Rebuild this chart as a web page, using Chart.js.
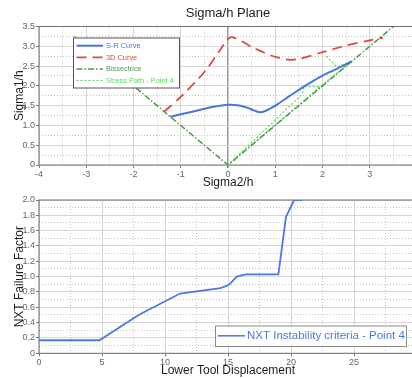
<!DOCTYPE html>
<html><head><meta charset="utf-8">
<script src="https://cdn.jsdelivr.net/npm/chart.js@4.4.1/dist/chart.umd.min.js"></script>
<style>
html,body{margin:0;padding:0;background:#fff;overflow:hidden;width:412px;height:378px;position:relative;}
#c1{position:absolute;left:0;top:0;}
#c2{position:absolute;left:0;top:186px;}
</style></head><body>
<canvas id="c2" width="424" height="192"></canvas>
<canvas id="c1" width="424" height="190"></canvas>
<script>
// ---- Top chart data (Sigma/h plane) ----
const srX = [-1.22,-1.0,-0.6,-0.3,0,0.2,0.4,0.55,0.68,0.8,1.0,1.3,1.63,2.0,2.3,2.62];
const srY = [1.22,1.28,1.39,1.47,1.52,1.51,1.45,1.38,1.33,1.37,1.5,1.74,2.0,2.26,2.43,2.62];
const d3X = [-1.35,-1.0,-0.5,-0.2,0,0.08,0.3,0.5,0.75,1.0,1.3,1.5,2.0,2.5,3.0,3.28];
const d3Y = [1.35,1.72,2.35,2.85,3.18,3.23,3.12,2.98,2.85,2.73,2.66,2.68,2.85,3.02,3.15,3.22];
const bisX = [-3.25,0,3.5];
const bisY = [3.25,0,3.5];
const spX = [2.08,2.3,2.62,2.05,0,1.58,1.6,2.05];
const spY = [2.75,2.48,2.62,2.08,0,1.8,1.98,1.98];
const topLabels = ['S-R Curve','3D Curve','Bissectrice','Stress Path - Point 4'];
const topXTicks = [-4,-3,-2,-1,0,1,2,3];
// ---- Bottom chart data ----
const dispX = [0,4.8,7.9,11.2,14.4,15.05,15.7,16.4,19.0,19.6,20.25,20.9];
const nxtY = [0.17,0.17,0.5,0.78,0.85,0.89,1.0,1.03,1.03,1.78,2.0,2.0];
const bottomLabel = 'NXT Instability criteria - Point 4';
const bottomXTicks = [0,5,10,15,20,25];

const FONT = "'Liberation Sans', Arial, sans-serif";
Chart.defaults.font.family = FONT;

const pts = (xs, ys) => xs.map((x, i) => ({x, y: ys[i]}));

const frame = {
  id: 'frame',
  beforeDatasetsDraw(chart) {
    const a = chart.chartArea, c = chart.ctx;
    c.save(); c.strokeStyle = '#6e6e6e'; c.lineWidth = 1;
    c.strokeRect(a.left, a.top, a.right - a.left, a.bottom - a.top);
    c.restore();
  }
};

function titlePlugin(text, y) {
  return {
    id: 'ctitle',
    afterDraw(chart) {
      const a = chart.chartArea, c = chart.ctx;
      c.save(); c.fillStyle = '#1e1e1e'; c.font = '13px ' + FONT;
      c.textAlign = 'center'; c.textBaseline = 'middle';
      c.fillText(text, (a.left + a.right) / 2, y);
      c.restore();
    }
  };
}

function legendPlugin(box, rows) {
  return {
    id: 'clegend',
    afterDraw(chart) {
      const c = chart.ctx;
      c.save();
      c.fillStyle = '#fff';
      c.fillRect(box.x, box.y, box.w, box.h);
      c.strokeStyle = box.border; c.lineWidth = 1;
      c.strokeRect(box.x + 0.5, box.y + 0.5, box.w, box.h);
      chart.data.datasets.forEach((ds, i) => {
        const y = box.y + rows.first + i * rows.step;
        c.strokeStyle = ds.borderColor; c.lineWidth = rows.lw ? rows.lw : ds.borderWidth;
        c.setLineDash(ds.borderDash || []);
        c.beginPath(); c.moveTo(box.x + rows.l0, y); c.lineTo(box.x + rows.l1, y); c.stroke();
        c.setLineDash([]);
        c.fillStyle = ds.borderColor; c.font = rows.font + 'px ' + FONT;
        c.textAlign = 'left'; c.textBaseline = 'middle';
        c.fillText(ds.label, box.x + rows.tx, y + 0.5);
      });
      c.restore();
    }
  };
}

const tickFont = {size: 9, family: FONT};
const titleFont = {size: 12, family: FONT};

function mainAxis(opts) {
  return Object.assign({
    type: 'linear',
    grid: {
      color: ctx => (opts.zeroLine && ctx.tick && ctx.tick.value === 0) ? '#9a9a9a' : '#d6d6d6',
      lineWidth: ctx => (opts.zeroLine && ctx.tick && ctx.tick.value === 0) ? 1.5 : 1,
      tickLength: 3, tickColor: '#777'
    },
    border: {display: false},
    ticks: {font: tickFont, color: '#666', padding: 1}
  }, opts.extra);
}
function minorAxis(pos, min, max, step, majorStep) {
  return {
    type: 'linear', position: pos, min, max,
    ticks: {display: false, stepSize: step},
    grid: {
      color: ctx => (ctx.tick && Math.abs(ctx.tick.value / majorStep - Math.round(ctx.tick.value / majorStep)) < 1e-6) ? 'rgba(0,0,0,0)' : '#c4c4c4',
      drawTicks: false, lineWidth: 1
    },
    border: {display: false, dash: [1, 2]},
    afterFit: s => { if (pos === 'left') s.width = 0; else s.height = 0; }
  };
}

// ---- Top chart ----
new Chart(document.getElementById('c1'), {
  type: 'scatter',
  data: {
    datasets: [
      {label: topLabels[0], data: pts(srX, srY), showLine: true, borderColor: '#4a76dc', borderWidth: 2, pointRadius: 0, tension: 0.3},
      {label: topLabels[1], data: pts(d3X, d3Y), showLine: true, borderColor: '#dd4a3e', borderWidth: 1.8, borderDash: [10, 6], pointRadius: 0, tension: 0.3},
      {label: topLabels[2], data: pts(bisX, bisY), showLine: true, borderColor: '#4e9a4a', borderWidth: 1.5, borderDash: [6, 2, 1.5, 2], pointRadius: 0},
      {label: topLabels[3], data: pts(spX, spY), showLine: true, borderColor: '#5fd85f', borderWidth: 1.2, borderDash: [2, 2], pointRadius: 0}
    ]
  },
  options: {
    responsive: false, animation: false,
    layout: {padding: {top: 26.5, right: 7, left: 0, bottom: 0}},
    plugins: {legend: {display: false}, tooltip: {enabled: false}},
    scales: {
      x: mainAxis({zeroLine: true, extra: {
        position: 'bottom', min: -4, max: 4,
        afterBuildTicks: s => { s.ticks = topXTicks.map(v => ({value: v})).concat([{value: 4}]); },
        ticks: {font: tickFont, color: '#666', padding: 1, callback: v => (v === 4 ? '' : v)},
        title: {display: true, text: 'Sigma2/h', font: titleFont, color: '#1e1e1e', padding: {top: 0, bottom: 0}},
        afterFit: s => { s.height = 25; }
      }}),
      xm: minorAxis('bottom', -4, 4, 0.5, 1),
      y: mainAxis({extra: {
        position: 'left', min: 0, max: 3.5,
        ticks: {font: tickFont, color: '#666', padding: 1, stepSize: 0.5},
        title: {display: true, text: 'Sigma1/h', font: titleFont, color: '#1e1e1e', padding: {top: 12, bottom: 0}},
        afterFit: s => { s.width = 39; }
      }}),
      ym: minorAxis('left', 0, 3.5, 0.25, 0.5)
    }
  },
  plugins: [frame, titlePlugin('Sigma/h Plane', 13),
    legendPlugin({x: 73, y: 37.5, w: 106, h: 50, border: '#555'}, {first: 8.2, step: 11.6, l0: 3.5, l1: 30, tx: 33, font: 7.4})]
});

// ---- Bottom chart ----
new Chart(document.getElementById('c2'), {
  type: 'scatter',
  data: {
    datasets: [
      {label: bottomLabel, data: pts(dispX, nxtY), showLine: true, borderColor: '#4d78e2', borderWidth: 1.8, pointRadius: 0, tension: 0}
    ]
  },
  options: {
    responsive: false, animation: false,
    layout: {padding: {top: 14, right: 7, left: 0, bottom: 0}},
    plugins: {legend: {display: false}, tooltip: {enabled: false}},
    scales: {
      x: mainAxis({extra: {
        position: 'bottom', min: 0, max: 30,
        afterBuildTicks: s => { s.ticks = bottomXTicks.map(v => ({value: v})).concat([{value: 30}]); },
        ticks: {font: tickFont, color: '#666', padding: 1, callback: v => (v === 30 ? '' : v)},
        title: {display: true, text: 'Lower Tool Displacement', font: titleFont, color: '#1e1e1e', padding: {top: 0, bottom: 0}},
        afterFit: s => { s.height = 24.7; }
      }}),
      xm: minorAxis('bottom', 0, 30, 2.5, 5),
      y: mainAxis({extra: {
        position: 'left', min: 0, max: 2,
        ticks: {font: tickFont, color: '#666', padding: 1, stepSize: 0.2},
        title: {display: true, text: 'NXT Failure Factor', font: titleFont, color: '#1e1e1e', padding: {top: 12, bottom: 0}},
        afterFit: s => { s.width = 39; }
      }}),
      ym: minorAxis('left', 0, 2, 0.1, 0.2)
    }
  },
  plugins: [frame,
    legendPlugin({x: 215, y: 139.5, w: 191, h: 20.5, border: '#8a8a8a'}, {first: 10.3, step: 0, l0: 3, l1: 30, tx: 32, font: 11.5, lw: 1.5})]
});
</script>
</body></html>
